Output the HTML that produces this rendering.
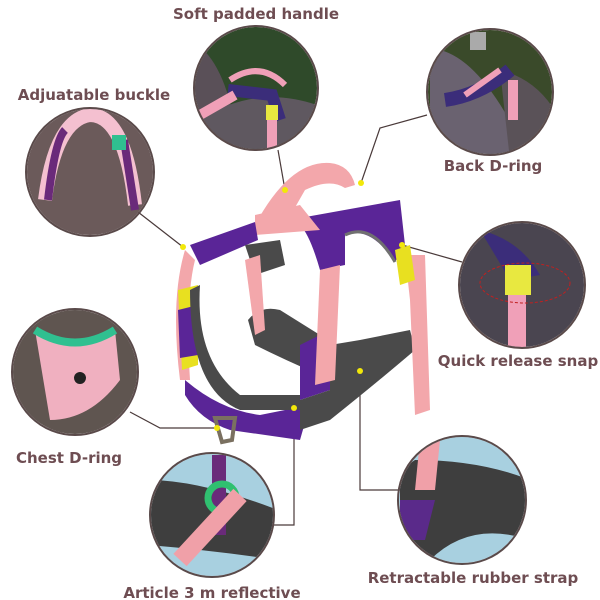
<!DOCTYPE html><html><head><style>
body{margin:0;background:#fff}
svg{display:block}
text{font-family:"DejaVu Sans","Liberation Sans",sans-serif;font-weight:bold;fill:#6e4d52;font-size:15px;text-anchor:middle}
</style></head><body>
<svg width="600" height="600" viewBox="0 0 600 600">
<defs>
<clipPath id="c1"><circle cx="256" cy="88" r="61"/></clipPath>
<clipPath id="c2"><circle cx="490" cy="92" r="62"/></clipPath>
<clipPath id="c3"><circle cx="90" cy="172" r="63"/></clipPath>
<clipPath id="c4"><circle cx="522" cy="285" r="62"/></clipPath>
<clipPath id="c5"><circle cx="75" cy="372" r="62"/></clipPath>
<clipPath id="c6"><circle cx="212" cy="515" r="61"/></clipPath>
<clipPath id="c7"><circle cx="462" cy="500" r="63"/></clipPath>
</defs>
<g stroke="#4a3a3a" stroke-width="1.2" fill="none">
<path d="M285 190 L278 150"/>
<path d="M361 183 L380 128 L427 115"/>
<path d="M183 247 L138 212"/>
<path d="M402 245 L462 262"/>
<path d="M217 428 L160 428 L130 412"/>
<path d="M360 371 L360 490 L403 490"/>
<path d="M294 408 L294 525 L272 525"/>
</g>
<g clip-path="url(#c1)"><rect x="190" y="20" width="140" height="140" fill="#2f4a2a"/><path d="M190 40 Q230 60 240 160 L190 160Z" fill="#5a5058"/><path d="M200 120 Q260 80 330 110 L330 160 L190 160Z" fill="#5f5860"/><path d="M230 80 Q260 60 285 85" stroke="#f0a0b8" stroke-width="6" fill="none"/><path d="M228 90 L272 95 L280 120" stroke="#3b2d7a" stroke-width="12" fill="none"/><path d="M200 115 L235 95" stroke="#f0a0b8" stroke-width="10"/><rect x="266" y="105" width="12" height="15" fill="#e8e840"/><rect x="267" y="120" width="10" height="30" fill="#f0a0b8"/></g>
<circle cx="256" cy="88" r="62" fill="none" stroke="#5a4a4a" stroke-width="2"/>
<g clip-path="url(#c2)"><rect x="420" y="20" width="140" height="150" fill="#3a4a2a"/><path d="M440 50 Q480 60 520 140 L540 160 L430 160 L430 60Z" fill="#6a6270"/><path d="M500 70 Q540 80 560 120 L560 160 L510 160Z" fill="#5a5258"/><path d="M445 100 Q480 95 510 70" stroke="#3b2d7a" stroke-width="14" fill="none"/><path d="M465 95 L500 70" stroke="#f0a0b8" stroke-width="6"/><rect x="508" y="80" width="10" height="40" fill="#f0a0b8"/><rect x="470" y="32" width="16" height="18" fill="#aaa"/></g>
<circle cx="490" cy="92" r="63" fill="none" stroke="#5a4a4a" stroke-width="2"/>
<g clip-path="url(#c3)"><rect x="25" y="105" width="130" height="135" fill="#6b5a5a"/><path d="M45 200 Q55 120 90 115 Q125 115 135 205" stroke="#f4c0d0" stroke-width="14" fill="none"/><path d="M48 200 Q55 140 65 130" stroke="#6a2a7a" stroke-width="8" fill="none"/><path d="M124 140 L135 210" stroke="#6a2a7a" stroke-width="8"/><rect x="112" y="135" width="14" height="15" fill="#30c090"/></g>
<circle cx="90" cy="172" r="64" fill="none" stroke="#5a4a4a" stroke-width="2"/>
<g clip-path="url(#c4)"><rect x="458" y="220" width="130" height="130" fill="#4a4550"/><path d="M480 230 Q520 240 540 275 L510 280 Z" fill="#3b2d7a"/><rect x="505" y="265" width="26" height="30" fill="#e8e840"/><rect x="508" y="295" width="18" height="60" fill="#f0a0b8"/><ellipse cx="525" cy="283" rx="45" ry="20" fill="none" stroke="#c02020" stroke-dasharray="3 2"/></g>
<circle cx="522" cy="285" r="63" fill="none" stroke="#5a4a4a" stroke-width="2"/>
<g clip-path="url(#c5)"><rect x="10" y="305" width="130" height="135" fill="#5f5550"/><path d="M35 330 Q75 360 115 330 L120 380 Q90 420 50 420 Z" fill="#f0b0c0"/><path d="M35 330 Q75 355 115 330" stroke="#30c090" stroke-width="8" fill="none"/><circle cx="80" cy="378" r="6" fill="#222"/></g>
<circle cx="75" cy="372" r="63" fill="none" stroke="#5a4a4a" stroke-width="2"/>
<g clip-path="url(#c6)"><rect x="148" y="450" width="130" height="130" fill="#a8d0e0"/><path d="M148 480 Q200 480 278 510 L278 560 Q210 550 148 545Z" fill="#3e3e3e"/><rect x="212" y="455" width="14" height="80" fill="#6a2a7a"/><circle cx="222" cy="498" r="14" fill="none" stroke="#30c070" stroke-width="7"/><path d="M180 560 L240 495" stroke="#f0a0a8" stroke-width="18"/></g>
<circle cx="212" cy="515" r="62" fill="none" stroke="#5a4a4a" stroke-width="2"/>
<g clip-path="url(#c7)"><rect x="398" y="435" width="130" height="130" fill="#a8d0e0"/><path d="M415 460 Q480 460 530 480 L530 540 Q470 520 430 560 L400 560 L400 470Z" fill="#3e3e3e"/><path d="M400 500 L435 500 L425 540 L400 540Z" fill="#5a2a8a"/><path d="M420 440 L440 440 L435 490 L415 490Z" fill="#f0a0a8"/></g>
<circle cx="462" cy="500" r="64" fill="none" stroke="#5a4a4a" stroke-width="2"/>
<g>
<path d="M300 218 L400 200 L405 245 L395 262 Q370 225 345 235 L345 265 L320 270 Q310 235 300 225Z" fill="#5a2597"/>
<path d="M345 235 Q372 222 395 262" stroke="#707070" stroke-width="3" fill="none"/>
<path d="M255 225 Q290 160 330 163 Q350 165 355 185 L345 188 Q330 178 305 190 L285 225Z" fill="#f3a7ab"/>
<path d="M255 215 L300 205 L320 230 L255 235Z" fill="#f3a7ab"/>
<path d="M190 245 L255 222 L258 240 L200 265Z" fill="#5a2597"/>
<path d="M245 245 L280 240 L285 265 L255 275Z" fill="#4a4a4a"/>
<path d="M185 250 Q170 300 180 380 L190 380 Q185 300 195 260Z" fill="#f3a7ab"/>
<path d="M178 290 L198 285 L198 365 L182 370Z" fill="#e8e020"/>
<path d="M178 310 L198 305 L198 355 L180 358Z" fill="#5a2597"/>
<path d="M185 380 Q220 410 260 415 L310 405 L300 440 L230 430 Q200 420 185 395Z" fill="#5a2597"/>
<path d="M200 285 Q195 360 240 395 L300 395 L300 410 L240 410 Q190 390 190 290Z" fill="#4a4a4a"/>
<path d="M248 320 Q260 305 280 310 L320 335 L320 375 Q285 360 255 345Z" fill="#4a4a4a"/>
<path d="M300 345 L330 330 L330 390 L300 400Z" fill="#5a2597"/>
<path d="M300 400 L330 390 L330 345 L360 340 L410 330 L415 350 Q380 380 330 420 L300 430Z" fill="#4a4a4a"/>
<path d="M320 270 L340 265 L335 380 L315 385Z" fill="#f3a7ab"/>
<path d="M405 255 L425 255 L430 410 L415 415 L410 300Z" fill="#f3a7ab"/>
<path d="M245 260 L260 255 L265 330 L255 335Z" fill="#f3a7ab"/>
<path d="M395 250 L410 245 L415 280 L400 285Z" fill="#e8e020"/>
<path d="M215 418 L235 418 L232 440 L222 442Z" fill="none" stroke="#7a7060" stroke-width="4"/>
</g>
<g fill="#f2e80a">
<circle cx="285" cy="190" r="3"/><circle cx="361" cy="183" r="3"/><circle cx="183" cy="247" r="3"/><circle cx="402" cy="245" r="3"/><circle cx="360" cy="371" r="3"/><circle cx="294" cy="408" r="3"/><circle cx="217" cy="428" r="3"/>
</g>
<text x="256" y="19">Soft padded handle</text>
<text x="94" y="100">Adjuatable buckle</text>
<text x="493" y="171">Back D-ring</text>
<text x="518" y="366">Quick release snap</text>
<text x="69" y="463">Chest D-ring</text>
<text x="212" y="598">Article 3 m reflective</text>
<text x="473" y="583">Retractable rubber strap</text>
</svg>
</body></html>
